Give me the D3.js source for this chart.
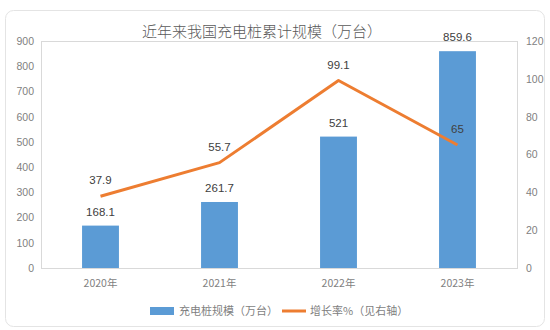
<!DOCTYPE html>
<html>
<head>
<meta charset="utf-8">
<script src="https://cdn.jsdelivr.net/npm/d3@7"></script>
<style>
  html, body { margin: 0; padding: 0; background: #fff; }
  svg { display: block; }
</style>
</head>
<body>
<svg id="chart" width="550" height="330"></svg>
<script>
// Charging-pile totals (10k units) and year-on-year growth (%)
const years = ["2020年", "2021年", "2022年", "2023年"];
const scale = [168.1, 261.7, 521, 859.6];
const growth = [37.9, 55.7, 99.1, 65];
const leftTicks = [0, 100, 200, 300, 400, 500, 600, 700, 800, 900];
const rightTicks = [0, 20, 40, 60, 80, 100, 120];
const titleText = "近年来我国充电桩累计规模（万台）";
const legendBar = "充电桩规模（万台）";
const legendLine = "增长率%（见右轴）";

const svg = d3.select("#chart");
const latin = "'Liberation Sans', 'Open Sans', sans-serif";
const cjk = "'Noto Sans CJK SC', 'Liberation Sans', sans-serif";

const plot = { left: 41, right: 517, top: 41, bottom: 268 };
const barColor = "#5b9bd5";
const lineColor = "#ed7d31";

// card border
svg.append("rect")
  .attr("x", 5.5).attr("y", 10.5).attr("width", 539).attr("height", 316)
  .attr("rx", 8).attr("fill", "#fff").attr("stroke", "#e4e4e4");

const x = d3.scaleBand().domain(years).range([plot.left, plot.right]).paddingInner(0.69).paddingOuter(0.345);
const yL = d3.scaleLinear().domain([0, 900]).range([plot.bottom, plot.top]);
const yR = d3.scaleLinear().domain([0, 120]).range([plot.bottom, plot.top]);

// plot frame
svg.append("rect")
  .attr("x", plot.left + 0.5).attr("y", plot.top + 0.5)
  .attr("width", plot.right - plot.left).attr("height", plot.bottom - plot.top)
  .attr("fill", "none").attr("stroke", "#d9d9d9");

// left axis
const axL = svg.append("g").attr("transform", `translate(${plot.left},0)`)
  .call(d3.axisLeft(yL).tickValues(leftTicks).tickSize(0).tickPadding(7));
axL.select(".domain").remove();
axL.selectAll("text").attr("fill", "#7f7f7f").style("font-family", latin).style("font-size", "10.5px");

// right axis
const axR = svg.append("g").attr("transform", `translate(${plot.right},0)`)
  .call(d3.axisRight(yR).tickValues(rightTicks).tickSize(0).tickPadding(9));
axR.select(".domain").remove();
axR.selectAll("text").attr("fill", "#7f7f7f").style("font-family", latin).style("font-size", "10.5px");

// x axis
const axX = svg.append("g").attr("transform", `translate(0,${plot.bottom})`)
  .call(d3.axisBottom(x).tickSize(0).tickPadding(19));
axX.select(".domain").remove();
axX.selectAll("text").attr("fill", "#7f7f7f").style("font-family", cjk).style("font-size", "10.5px");
axX.selectAll(".tick text").attr("dy", "0");

// bars
svg.append("g").selectAll("rect").data(years).join("rect")
  .attr("x", d => x(d)).attr("width", x.bandwidth())
  .attr("y", (d, i) => yL(scale[i]))
  .attr("height", (d, i) => plot.bottom - yL(scale[i]))
  .attr("fill", barColor);

// bar value labels
svg.append("g").selectAll("text").data(years).join("text")
  .attr("x", d => x(d) + x.bandwidth() / 2)
  .attr("y", (d, i) => yL(scale[i]) - 10)
  .attr("text-anchor", "middle")
  .attr("fill", "#404040").style("font-family", latin).style("font-size", "11.5px")
  .text((d, i) => scale[i]);

// growth line
const line = d3.line()
  .x((d, i) => x(years[i]) + x.bandwidth() / 2)
  .y(d => yR(d));
svg.append("path").datum(growth)
  .attr("d", line).attr("fill", "none")
  .attr("stroke", lineColor).attr("stroke-width", 3).attr("stroke-linejoin", "round");

// growth value labels
svg.append("g").selectAll("text").data(growth).join("text")
  .attr("x", (d, i) => x(years[i]) + x.bandwidth() / 2)
  .attr("y", d => yR(d) - 12)
  .attr("text-anchor", "middle")
  .attr("fill", "#404040").style("font-family", latin).style("font-size", "11.5px")
  .text(d => d);

// title
svg.append("text")
  .attr("x", 262).attr("y", 37).attr("text-anchor", "middle")
  .attr("fill", "#595959").style("font-family", cjk).style("font-size", "15px").style("font-weight", 300)
  .text(titleText);

// legend
const lg = svg.append("g");
lg.append("rect").attr("x", 150).attr("y", 307).attr("width", 24).attr("height", 8).attr("fill", barColor);
lg.append("text").attr("x", 179).attr("y", 315).attr("fill", "#7f7f7f")
  .style("font-family", cjk).style("font-size", "11px").text(legendBar);
lg.append("line").attr("x1", 282).attr("x2", 306).attr("y1", 311).attr("y2", 311)
  .attr("stroke", lineColor).attr("stroke-width", 3);
lg.append("text").attr("x", 310).attr("y", 315).attr("fill", "#7f7f7f")
  .style("font-family", cjk).style("font-size", "11px").text(legendLine);
</script>
</body>
</html>
